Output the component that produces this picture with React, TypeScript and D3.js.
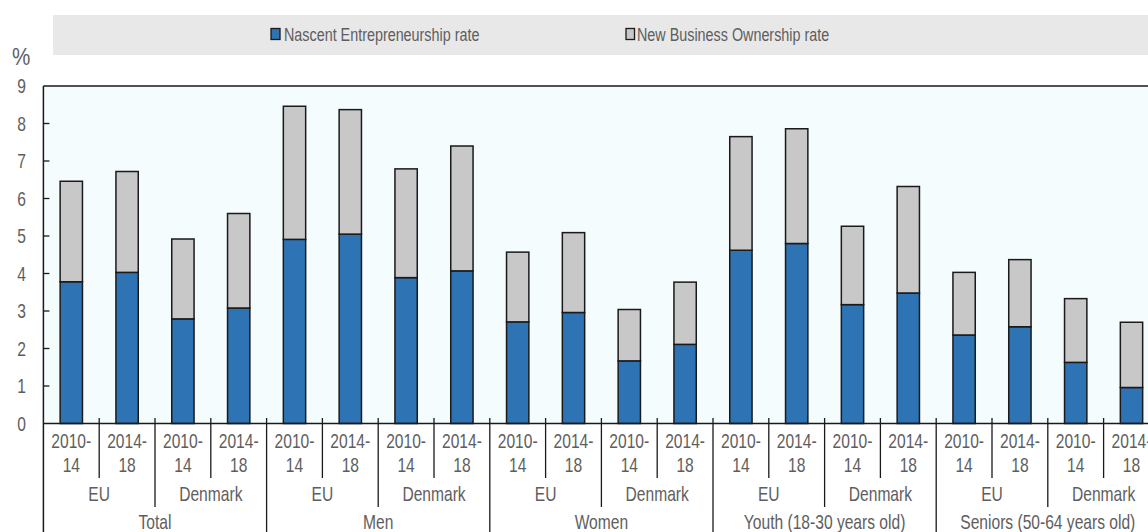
import React from "react";
import * as d3 from "d3";

const groups = ["Total", "Men", "Women", "Youth (18-30 years old)", "Seniors (50-64 years old)"];
const countries = ["EU", "Denmark"];
const periods = [["2010-", "14"], ["2014-", "18"]];
const yTicks = [0, 1, 2, 3, 4, 5, 6, 7, 8, 9];

const nascent = [3.78, 4.03, 2.79, 3.08, 4.91, 5.05, 3.89, 4.07, 2.71, 2.96, 1.67, 2.11, 4.62, 4.8, 3.17, 3.48, 2.36, 2.58, 1.63, 0.96];
const newBusiness = [2.68, 2.69, 2.13, 2.52, 3.55, 3.32, 2.9, 3.33, 1.86, 2.13, 1.37, 1.66, 3.03, 3.06, 2.09, 2.84, 1.67, 1.79, 1.7, 1.74];

const seriesNames = ["Nascent Entrepreneurship rate", "New Business Ownership rate"];

const W = 1148;
const H = 532;
const FONT = "'Liberation Sans', Arial, sans-serif";
const TXT = "#5e5e5e";
const BLUE = "#2e74b5";
const GREY = "#c8c8c8";
const EDGE = "#1a1a1a";

function T(props: { x: number; y: number; size: number; sx?: number; anchor?: string; dy?: string; children: React.ReactNode }) {
  const { x, y, size, sx, anchor, dy, children } = props;
  return (
    <text
      transform={`translate(${x},${y}) scale(${sx ?? 0.78},1)`}
      textAnchor={anchor || "start"}
      dy={dy}
      fontSize={size}
      fill={TXT}
    >
      {children}
    </text>
  );
}

export default function App() {
  const left = 43.4;
  const step = 55.8;
  const n = nascent.length;
  const idx = d3.range(n);
  const x = d3.scaleBand<number>().domain(idx).range([left, left + step * n]).paddingInner(0.6).paddingOuter(0.3);
  const y = d3.scaleLinear().domain([0, 9]).range([423.5, 86]);
  const stack = idx.map((i) => ({ i, n: nascent[i], b: newBusiness[i] }));
  const st = d3.stack<any>().keys(["n", "b"])(stack);

  const boundaryX = (k: number) => left + k * step;
  const seps: { x: number; y2: number }[] = [];
  for (let k = 1; k <= n; k++) {
    let y2 = 478;
    if (k % 4 === 0) y2 = H;
    else if (k % 2 === 0) y2 = 507;
    seps.push({ x: boundaryX(k), y2 });
  }

  return (
    <svg width={W} height={H} style={{ position: "absolute", left: 0, top: 0 }} fontFamily={FONT}>
      <rect x={0} y={0} width={W} height={H} fill="#ffffff" />
      {/* legend band */}
      <rect x={53} y={15} width={W - 53} height={40} fill="#e8e8e8" />
      <rect x={271} y={28.5} width={9} height={11} fill={BLUE} stroke={EDGE} strokeWidth={1.3} />
      <T x={284} y={41} size={18.5} sx={0.776}>{seriesNames[0]}</T>
      <rect x={626} y={28.5} width={8.5} height={11} fill={GREY} stroke={EDGE} strokeWidth={1.3} />
      <T x={637} y={41} size={18.5} sx={0.776}>{seriesNames[1]}</T>

      <T x={12} y={65} size={24} sx={0.86}>%</T>

      {/* plot background */}
      <rect x={left} y={y(9)} width={W - left} height={y(0) - y(9)} fill="#f4fcfd" />

      {/* bars */}
      {st.map((layer, li) => (
        <g key={li}>
          {layer.map((d, j) => (
            <rect
              key={j}
              x={x(j)}
              y={y(d[1])}
              width={x.bandwidth()}
              height={y(d[0]) - y(d[1])}
              fill={li === 0 ? BLUE : GREY}
              stroke={EDGE}
              strokeWidth={1.5}
            />
          ))}
        </g>
      ))}

      {/* axes frame */}
      <line x1={left} x2={W} y1={y(9)} y2={y(9)} stroke={EDGE} strokeWidth={1.5} />
      <line x1={left} x2={W} y1={y(0)} y2={y(0)} stroke={EDGE} strokeWidth={1.5} />
      <line x1={left} x2={left} y1={y(9)} y2={H} stroke={EDGE} strokeWidth={1.5} />
      {yTicks.map((t) => (
        <g key={t}>
          {t > 0 && t < 9 && <line x1={left} x2={left + 6} y1={y(t)} y2={y(t)} stroke={EDGE} strokeWidth={1.3} />}
          <T x={26} y={y(t)} dy="0.36em" anchor="end" size={20}>{t}</T>
        </g>
      ))}

      {/* category separators */}
      {seps.map((s, k) => (
        <line key={k} x1={s.x} x2={s.x} y1={418} y2={s.y2} stroke={EDGE} strokeWidth={1.3} />
      ))}

      {/* period labels */}
      {idx.map((i) => {
        const cx = (x(i) as number) + x.bandwidth() / 2;
        const p = periods[i % 2];
        return (
          <g key={i}>
            <T x={cx} y={448} anchor="middle" size={20}>{p[0]}</T>
            <T x={cx} y={472} anchor="middle" size={20}>{p[1]}</T>
          </g>
        );
      })}
      {/* country labels */}
      {d3.range(n / 2).map((c) => (
        <T key={c} x={left + (c * 2 + 1) * step} y={501} anchor="middle" size={20}>
          {countries[c % 2]}
        </T>
      ))}
      {/* group labels */}
      {groups.map((g, gi) => (
        <T key={g} x={left + (gi * 4 + 2) * step} y={528.5} anchor="middle" size={20}>
          {g}
        </T>
      ))}
    </svg>
  );
}
